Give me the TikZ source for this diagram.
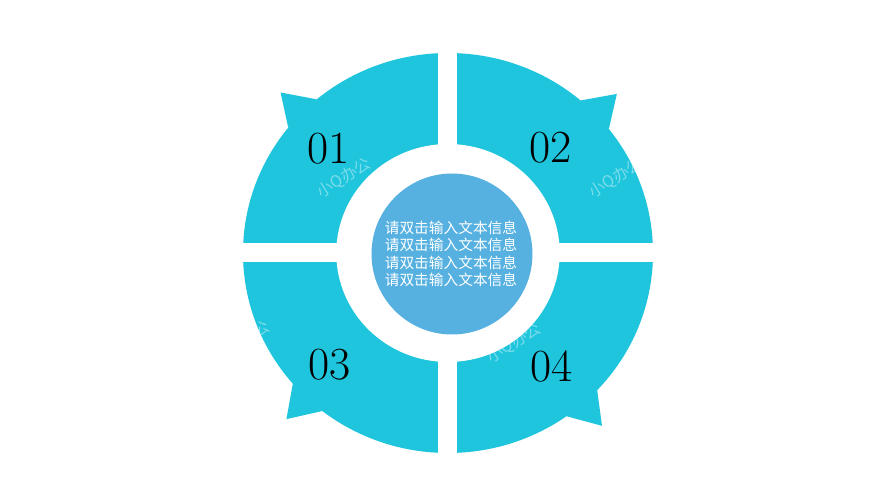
\documentclass[tikz,border=0pt]{standalone}
\usepackage{fontspec}
\newfontfamily\cjk{Noto Sans CJK SC}

\definecolor{ringcyan}{HTML}{1FC5DD}
\definecolor{hubblue}{HTML}{56B1E1}

\tikzset{
  numlabel/.style={font=\fontsize{46}{46}\selectfont, text=black, inner sep=0pt},
  hubtext/.style={font=\cjk\fontsize{14.7}{17.4}\selectfont, text=white, align=center},
  watermark/.style={font=\cjk\fontsize{16}{16}\selectfont, text=white, opacity=0.4, rotate=32, inner sep=0pt}
}

\begin{document}
\begin{tikzpicture}[x=1pt,y=1pt]
    \fill[white] (-448,-247) rectangle (441,253);
    \useasboundingbox (-448,-247) rectangle (441,253);

    % ring with the four barbs
    \begin{scope}[xscale=1.025]
        \fill[ringcyan] (0,0) circle (200);
        \foreach \a in {44,135.5,226.5,311}
            \fill[ringcyan] (\a-5.7:200) -- (\a:229) -- (\a+5.7:200) -- cycle;
        \fill[white] (0,0) circle (109);
    \end{scope}

    % gaps between the quarters
    \fill[white] (-9.5,-240) rectangle (9.5,240);
    \fill[white] (-240,-9.5) rectangle (240,9.5);

    % hub
    \fill[hubblue] (4,-1) circle (80.5);

    \draw
    (-119,104.5) node[numlabel](N1){01}
    (103,105) node[numlabel](N2){02}
    (-118,-112) node[numlabel](N3){03}
    (104,-113) node[numlabel](N4){04}
    (3,-1) node[hubtext](T){请双击输入文本信息\\请双击输入文本信息\\请双击输入文本信息\\请双击输入文本信息};

    \draw
    (-104,75) node[watermark](W1){小Q办公}
    (168,75) node[watermark](W2){小Q办公}
    (-205,-88) node[watermark](W3){小Q办公}
    (66,-90) node[watermark](W4){小Q办公};

\end{tikzpicture}
\end{document}
